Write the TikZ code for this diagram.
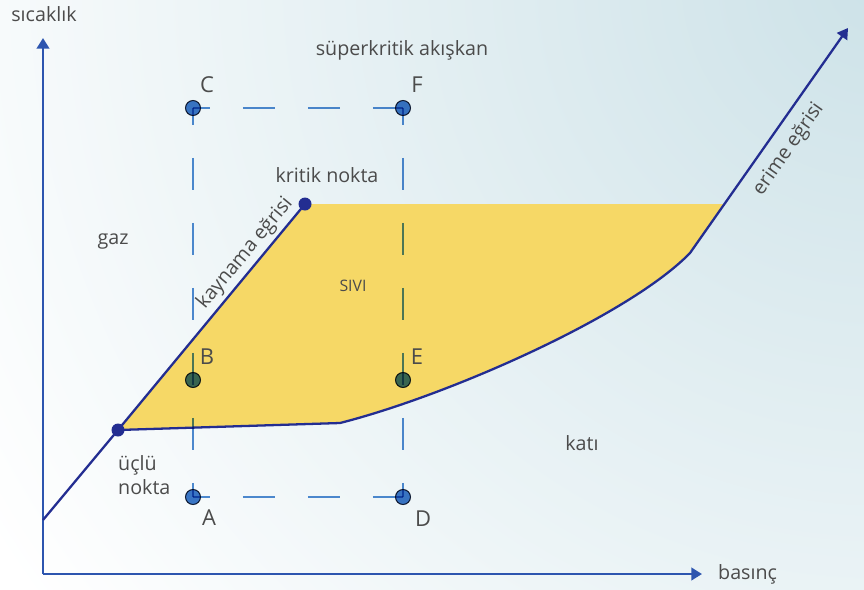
\documentclass[tikz,border=0pt]{standalone}
\usepackage{fontspec}
\setmainfont{Open Sans}
\usetikzlibrary{arrows.meta,positioning,calc}
\definecolor{AxisBlue}{RGB}{45,85,175}
\definecolor{CurveNavy}{RGB}{35,45,145}
\definecolor{DashBlue}{RGB}{80,140,210}
\definecolor{DotBlue}{RGB}{60,120,200}
\definecolor{DotEdge}{RGB}{30,40,60}
\definecolor{Liquid}{RGB}{246,216,102}
\definecolor{TextGray}{RGB}{75,75,75}
\definecolor{BgTeal}{RGB}{205,226,232}
\tikzset{
  axis/.style={AxisBlue,line width=1.5pt,-{Triangle[length=6pt,width=7pt]}},
  curve/.style={CurveNavy,line width=1.3pt},
  guide/.style={DashBlue,line width=1pt,dash pattern=on 0.64cm off 0.66cm,dash phase=0.3cm},
  sdot/.style={circle,fill=DotBlue,draw=DotEdge,line width=0.6pt,minimum size=0.3cm,inner sep=0pt},
  pdot/.style={circle,fill=CurveNavy,minimum size=0.26cm,inner sep=0pt},
  lbl/.style={font=\fontsize{11.2}{14}\selectfont,text=TextGray},
  lettr/.style={font=\fontsize{12.5}{14}\selectfont,text=TextGray},
}
\begin{document}
\begin{tikzpicture}[x=0.02cm,y=-0.02cm]
  \fill[white] (0,0) rectangle (864,589);
  \begin{scope}
    \clip (0,0) rectangle (864,589);
    \shade[inner color=BgTeal,outer color=white] (880,-20) circle (1050);
  \end{scope}
  \useasboundingbox (0,0) rectangle (864,589);

  % points of the diagram
  \coordinate (O) at (43,574);
  \coordinate (ytip) at (43,38);
  \coordinate (xtip) at (702,574);
  \coordinate (bstart) at (43,520);
  \coordinate (tp) at (118,430);
  \coordinate (cp) at (305,204);
  \coordinate (mbend) at (340,423);
  \coordinate (mkink) at (690,253);
  \coordinate (mtop) at (724.4,204);
  \coordinate (mtip) at (848,28);
  \coordinate (C) at (193,108);
  \coordinate (F) at (403,108);
  \coordinate (B) at (193,380);
  \coordinate (E) at (403,380);
  \coordinate (A) at (193,497);
  \coordinate (D) at (403,497);

  % liquid region
  \fill[Liquid] (tp) -- (cp) -- (mtop) -- (mkink)
    .. controls (630,315) and (450,395) .. (mbend) -- cycle;

  \draw[axis] (O) -- (ytip);
  \draw[axis] (O) -- (xtip);

  \draw[curve] (bstart) -- (tp) -- (cp)
    node[lbl,pos=0.74,sloped,above,inner sep=2pt] (kay) {kaynama eğrisi};
  \draw[curve,-{Triangle[length=6pt,width=7pt]}] (tp) -- (mbend)
    .. controls (450,395) and (630,315) .. (mkink) -- (mtip)
    node[lbl,pos=0.515,sloped,below,inner sep=6pt] (eri) {erime eğrisi};

  \begin{scope}[blend mode=multiply]
    \draw[guide] (C) -- (F);
    \draw[guide] (A) -- (D);
    \draw[guide] (C) -- (A);
    \draw[guide] (F) -- (D);
    \foreach \p in {A,B,C,D,E,F}
      \node[sdot] (dot\p) at (\p) {};
  \end{scope}

  \node[pdot] (triple) at (tp) {};
  \node[pdot] (crit) at (cp) {};

  \node[lettr] (lC) at ([shift={(14,-23)}]C) {C};
  \node[lettr] (lF) at ([shift={(14,-23)}]F) {F};
  \node[lettr] (lB) at ([shift={(14,-23)}]B) {B};
  \node[lettr] (lE) at ([shift={(14,-23)}]E) {E};
  \node[lettr] (lA) at ([shift={(16,21)}]A) {A};
  \node[lettr] (lD) at ([shift={(20,22)}]D) {D};

  \node[lbl] (sck) at (44,14) {sıcaklık};
  \node[lbl,anchor=west] (bas) at (712,574) {basınç};
  \node[lbl] (sup) at (402,50) {süperkritik akışkan};
  \node[lbl] (krit) at (327,175) {kritik nokta};
  \node[lbl] (gaz) at (113,241) {gaz};
  \node[lbl,font=\fontsize{9}{10}\selectfont] (siv) at (353,286) {SIVI};
  \node[lbl] (kat) at (582,443) {katı};
  \node[lbl,anchor=west,align=left] (ucl) at (112,475) {üçlü\\nokta};
\end{tikzpicture}
\end{document}
